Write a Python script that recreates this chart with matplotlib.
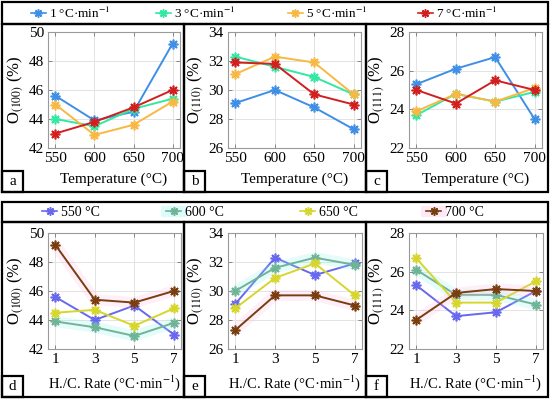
import matplotlib
matplotlib.use("Agg")
import matplotlib.pyplot as plt
from matplotlib.patches import Rectangle
from matplotlib.lines import Line2D

plt.rcParams['font.family'] = ['Liberation Serif', 'DejaVu Serif']
plt.rcParams['mathtext.fontset'] = 'stix'

W, H = 550, 399

temps = [550, 600, 650, 700]
rates = [1, 3, 5, 7]

# O(hkl) per rate (keys) vs temperature (list order)
o100 = {1: [45.6, 43.9, 44.5, 49.2],
        3: [44.0, 43.5, 44.7, 45.4],
        5: [45.0, 42.9, 43.6, 45.2],
        7: [43.0, 43.8, 44.8, 46.0]}
o110 = {1: [29.1, 30.0, 28.8, 27.3],
        3: [32.3, 31.6, 30.9, 29.7],
        5: [31.1, 32.3, 31.9, 29.7],
        7: [31.9, 31.8, 29.7, 29.0]}
o111 = {1: [25.3, 26.1, 26.7, 23.5],
        3: [23.7, 24.8, 24.4, 24.9],
        5: [23.9, 24.8, 24.4, 25.1],
        7: [25.0, 24.3, 25.5, 25.0]}

planes = ['100', '110', '111']
datasets = [o100, o110, o111]
ylims = [(42, 50), (26, 34), (22, 28)]
yticks = [[42, 44, 46, 48, 50], [26, 28, 30, 32, 34], [22, 24, 26, 28]]

rate_colors = {1: '#3f8fe6', 3: '#33e8a2', 5: '#f7b944', 7: '#d11f1f'}
temp_colors = {550: '#6868ee', 600: '#6fb497', 650: '#d6d62c', 700: '#7a3d0e'}
temp_glow = {600: '#8ff2f0', 700: '#ffb8e6'}

MARK = (8, 2, 0)


def fx(x):
    return x / W


def fy(y):
    return 1 - y / H


def box(x0, y0, x1, y1, lw=1.6):
    fig.patches.append(Rectangle((fx(x0), fy(y1)), fx(x1) - fx(x0), fy(y0) - fy(y1),
                                 transform=fig.transFigure, fill=False,
                                 edgecolor='black', linewidth=lw))


def add_axes(x0, y0, x1, y1):
    return fig.add_axes([fx(x0), fy(y1), fx(x1) - fx(x0), fy(y0) - fy(y1)])


def style(ax):
    ax.grid(True, color='#e3e3e3', linewidth=0.7)
    ax.set_axisbelow(True)
    for s in ax.spines.values():
        s.set_color('#9a9a9a')
        s.set_linewidth(0.8)
    ax.tick_params(direction='in', top=True, right=True, length=3, width=0.6,
                   color='#777777', labelsize=11, pad=3)


fig = plt.figure(figsize=(W / 100, H / 100), dpi=100)

# outer frames
box(2, 2, 548, 24)
box(2, 202, 548, 222)
panel_x = [(2, 184), (184, 366), (366, 548)]
for (x0, x1) in panel_x:
    box(x0, 24, x1, 192)
    box(x0, 222, x1, 397)

top_axes = [(48, 180), (228, 361), (409, 542)]
bot_axes = [(48, 181), (228, 362), (409, 543)]
letters_top = ['a', 'b', 'c']
letters_bot = ['d', 'e', 'f']

for i in range(3):
    data = datasets[i]
    # top row: vs temperature
    ax = add_axes(top_axes[i][0], 32, top_axes[i][1], 148)
    style(ax)
    for r in rates:
        ax.plot(temps, data[r], color=rate_colors[r], marker=MARK, markersize=7,
                markeredgewidth=1.2, linewidth=1.4)
    ax.set_xlim(540.5, 709.5)
    ax.set_xticks(temps)
    ax.set_ylim(*ylims[i])
    ax.set_yticks(yticks[i])
    ax.set_ylabel('O$_{(' + planes[i] + ')}$ (%)', fontsize=12, labelpad=2)
    ax.set_xlabel('Temperature (°C)', fontsize=11, labelpad=5)

    # bottom row: vs heating/cooling rate
    ax = add_axes(bot_axes[i][0], 233, bot_axes[i][1], 349)
    style(ax)
    for j, t in enumerate(temps):
        vals = [data[r][j] for r in rates]
        if t in temp_glow:
            ax.plot(rates, vals, color=temp_glow[t], linewidth=8, alpha=0.22,
                    solid_capstyle='butt', solid_joinstyle='miter')
        ax.plot(rates, vals, color=temp_colors[t], marker=MARK, markersize=7,
                markeredgewidth=1.2, linewidth=1.4)
    ax.set_xlim(0.64, 7.36)
    ax.set_xticks(rates)
    ax.set_ylim(*ylims[i])
    ax.set_yticks(yticks[i])
    ax.set_ylabel('O$_{(' + planes[i] + ')}$ (%)', fontsize=12, labelpad=2)
    ax.set_xlabel('H./C. Rate (°C·min$^{-1}$)', fontsize=10.5, labelpad=5)

    # letter boxes
    x0 = panel_x[i][0]
    box(x0, 171, x0 + 21, 192)
    fig.text(fx(x0 + 10.5), fy(181.5), letters_top[i], ha='center', va='center', fontsize=11)
    box(x0, 376, x0 + 21, 397)
    fig.text(fx(x0 + 10.5), fy(386.5), letters_bot[i], ha='center', va='center', fontsize=11)

# top legend
leg_x = [31, 156, 288, 418]
for r, x in zip(rates, leg_x):
    h = Line2D([], [], color=rate_colors[r], marker=MARK, markersize=6,
               markeredgewidth=1.1, linewidth=1.2)
    fig.legend(handles=[h], labels=[f'{r} °C·min$^{{-1}}$'], loc='center left',
               bbox_to_anchor=(fx(x), fy(13)), frameon=False, fontsize=9.5,
               handlelength=1.1, handletextpad=0.3, borderpad=0, borderaxespad=0)

# bottom legend
leg_x = [42, 166, 300, 426]
for t, x in zip(temps, leg_x):
    h = Line2D([], [], color=temp_colors[t], marker=MARK, markersize=6,
               markeredgewidth=1.1, linewidth=1.2)
    handles = [h]
    if t in temp_glow:
        g = Line2D([], [], color=temp_glow[t], linewidth=8, alpha=0.3)
        handles = [(g, h)]
    fig.legend(handles=handles, labels=[f'{t} °C'], loc='center left',
               bbox_to_anchor=(fx(x), fy(212)), frameon=False, fontsize=10,
               handlelength=1.1, handletextpad=0.3, borderpad=0, borderaxespad=0)

fig.savefig('out.png', dpi=100)
